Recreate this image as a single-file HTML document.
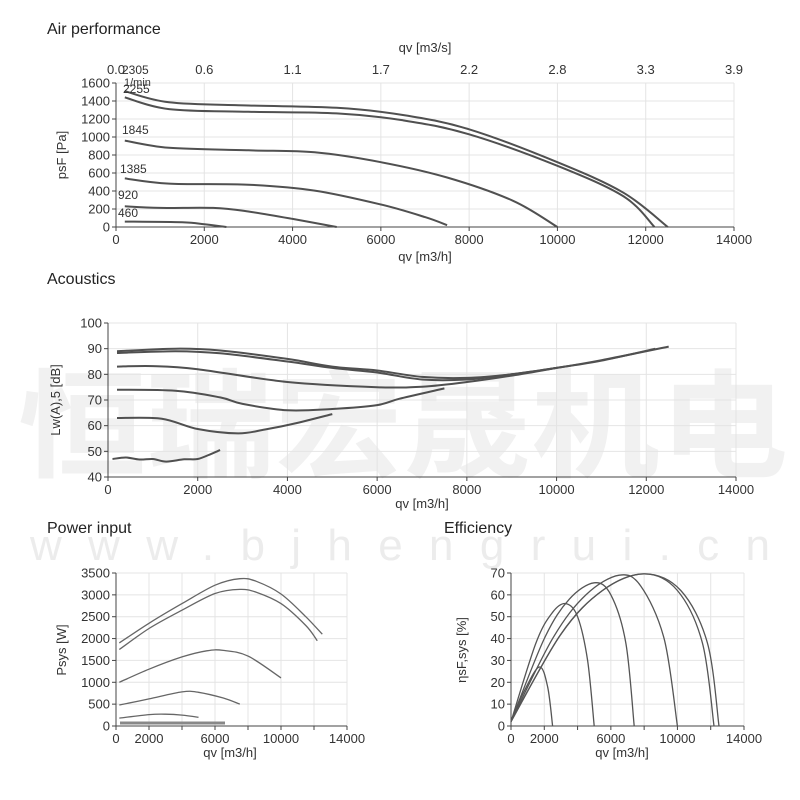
<!DOCTYPE html>
<html><head><meta charset="utf-8">
<style>
html,body{margin:0;padding:0;background:#fff;}
svg{display:block;font-family:"Liberation Sans","Noto Sans CJK SC",sans-serif;}
</style></head>
<body>
<svg id="s" width="800" height="800" viewBox="0 0 800 800" xmlns="http://www.w3.org/2000/svg">
<g fill="#f1f1f1" font-size="118" font-weight="bold" font-family="'Noto Sans CJK SC',sans-serif">
<text x="18" y="468" textLength="770" lengthAdjust="spacingAndGlyphs">恒瑞宏晟机电</text>
</g>
<text x="30" y="560" fill="#ececec" font-size="44" textLength="740" lengthAdjust="spacing">www.bjhengrui.cn</text>
<g id="g"></g>
</svg>
<script>
const g=document.getElementById('g');let h='';
function T(x,y,t,o){o=o||{};h+=`<text x="${x}" y="${y}" font-size="${o.s||13}" fill="${o.c||'#333'}" text-anchor="${o.a||'middle'}"${o.r?` transform="rotate(-90 ${x} ${y})"`:''}>${t}</text>`;}
function L(x1,y1,x2,y2,c,w){h+=`<line x1="${x1}" y1="${y1}" x2="${x2}" y2="${y2}" stroke="${c}" stroke-width="${w||1}"/>`;}
function spline(p){let d=`M${p[0][0].toFixed(1)},${p[0][1].toFixed(1)}`;for(let i=0;i<p.length-1;i++){const a=p[Math.max(0,i-1)],b=p[i],c=p[i+1],e=p[Math.min(p.length-1,i+2)];d+=`C${(b[0]+(c[0]-a[0])/6).toFixed(1)},${(b[1]+(c[1]-a[1])/6).toFixed(1)} ${(c[0]-(e[0]-b[0])/6).toFixed(1)},${(c[1]-(e[1]-b[1])/6).toFixed(1)} ${c[0].toFixed(1)},${c[1].toFixed(1)}`;}return d;}
function chart(c){const X=v=>c.x0+(c.x1-c.x0)*v/14000,Y=v=>c.y0+(c.y1-c.y0)*(v-c.ymin)/(c.ymax-c.ymin);
 for(let v=0;v<=14000;v+=2000){L(X(v),c.y1,X(v),c.y0,'#e4e4e4');L(X(v),c.y0,X(v),c.y0+4,'#444');}
 for(let v=c.ymin;v<=c.ymax;v+=c.ys){L(c.x0,Y(v),c.x1,Y(v),'#e4e4e4');L(c.x0-4,Y(v),c.x0,Y(v),'#444');T(c.x0-6,Y(v)+4.5,v,{a:'end',s:c.fs||13});}
 L(c.x0,c.y1,c.x0,c.y0,'#444');L(c.x0,c.y0,c.x1,c.y0,'#444');
 (c.xl||[0,2000,4000,6000,8000,10000,12000,14000]).forEach(v=>T(X(v),c.y0+17,v,{s:c.fs||13}));
 c.curves.forEach(cv=>{h+=`<path d="${spline(cv.map(p=>[X(p[0]),Y(p[1])]))}" fill="none" stroke="${c.col||'#505050'}" stroke-width="${c.w||2}"/>`;});
 return [X,Y];}
// Air
T(47,34,'Air performance',{a:'start',s:16,c:'#222'});
T(425,52,'qv [m3/s]',{s:13});
['0.0','0.6','1.1','1.7','2.2','2.8','3.3','3.9'].forEach((t,i)=>T(116+i*618/7,74,t,{s:13}));
chart({x0:116,x1:734,y0:227,y1:83,ymin:0,ymax:1600,ys:200,curves:[
[[200,1510],[1200,1385],[3000,1350],[5000,1325],[6500,1245],[8000,1085],[10000,720],[11500,380],[12500,0]],
[[200,1440],[1200,1310],[3000,1280],[5000,1262],[6500,1185],[8000,1030],[10000,680],[11500,340],[12200,0]],
[[200,960],[1200,880],[3000,852],[4500,830],[6000,720],[7500,550],[9000,290],[10000,0]],
[[200,540],[1200,482],[3000,470],[4500,405],[6000,250],[7000,110],[7500,20]],
[[200,230],[1000,212],[2200,212],[3000,172],[4000,90],[5000,0]],
[[200,60],[1500,52],[2000,30],[2500,0]]]});
T(425,261,'qv [m3/h]',{s:13});T(66,155,'psF [Pa]',{s:13,r:1});
T(122,74,'2305',{a:'start',s:12});T(124,86,'1/min',{a:'start',s:11});T(123,93,'2255',{a:'start',s:12});
T(122,134,'1845',{a:'start',s:12});T(120,173,'1385',{a:'start',s:12});T(118,199,'920',{a:'start',s:12});T(118,217,'460',{a:'start',s:12});
// Acoustics
T(47,284,'Acoustics',{a:'start',s:16,c:'#222'});
chart({x0:108,x1:736,y0:477,y1:323,ymin:40,ymax:100,ys:10,curves:[
[[200,89],[1500,90],[2500,89.3],[4000,86],[5000,83],[6000,81.5],[7000,79],[8000,78.6],[9000,80],[10000,82.5],[11000,85.5],[12500,90.8]],
[[200,88.3],[1500,89],[2500,88.2],[4000,85],[5000,82.5],[6000,80.7],[7000,78],[8000,78],[9000,80],[10000,82.5],[11000,85.3],[12200,90]],
[[200,83],[1000,83.2],[2000,82],[4000,77],[6000,75],[7000,75.2],[8000,77],[9000,79.5],[10000,82.5]],
[[200,74],[1500,73.6],[2500,71],[3000,68.5],[4000,66],[5000,66.5],[6000,68],[6500,70.5],[7500,74.5]],
[[200,63],[1200,62.7],[2000,58.7],[2900,57],[3500,58.5],[4200,61],[5000,64.5]],
[[100,47],[400,47.6],[700,46.8],[1000,47],[1300,46],[1700,46.9],[2000,47],[2300,49],[2500,50.5]]]});
T(422,508,'qv [m3/h]',{s:13});T(60,400,'Lw(A),5 [dB]',{s:13,r:1});
// Power
T(47,533,'Power input',{a:'start',s:16,c:'#222'});
chart({x0:116,x1:347,y0:726,y1:573,ymin:0,ymax:3500,ys:500,w:1.3,col:'#666',xl:[0,2000,6000,10000,14000],curves:[
[[200,1900],[2000,2350],[4000,2800],[6000,3220],[7500,3370],[8500,3310],[10000,3020],[11500,2500],[12500,2100]],
[[200,1750],[2000,2230],[4000,2650],[6000,3030],[7500,3125],[8500,3060],[10000,2800],[11500,2300],[12200,1950]],
[[200,1000],[2000,1300],[4000,1580],[5500,1720],[6500,1730],[8000,1600],[10000,1100]],
[[200,480],[2000,620],[4000,780],[5000,770],[6500,640],[7500,500]],
[[200,180],[2000,260],[3000,270],[4000,250],[5000,200]]]});
L(120,723,225,723,'#888',3);
T(230,757,'qv [m3/h]',{s:13});T(66,650,'Psys [W]',{s:13,r:1});
// Efficiency
T(444,533,'Efficiency',{a:'start',s:16,c:'#222'});
chart({x0:511,x1:744,y0:726,y1:573,ymin:0,ymax:70,ys:10,w:1.3,col:'#555',xl:[0,2000,6000,10000,14000],curves:[
[[0,2],[800,16],[1700,27],[2200,18],[2500,0]],
[[0,2],[1500,38],[2500,52],[3300,56],[4000,50],[4600,30],[5000,0]],
[[0,2],[2000,40],[3500,58],[5000,65.5],[6000,60],[6900,38],[7400,0]],
[[0,2],[2500,40],[4500,60],[6500,69],[7800,64],[9200,40],[10000,0]],
[[0,2],[3000,42],[5500,62],[8000,69.6],[10000,62],[11500,38],[12200,0]],
[[0,2],[3000,42],[5500,62],[8000,69.6],[10200,62],[11800,38],[12500,0]]]});
T(622,757,'qv [m3/h]',{s:13});T(466,650,'ηsF,sys [%]',{s:13,r:1});
g.innerHTML=h;
</script>
</body></html>
